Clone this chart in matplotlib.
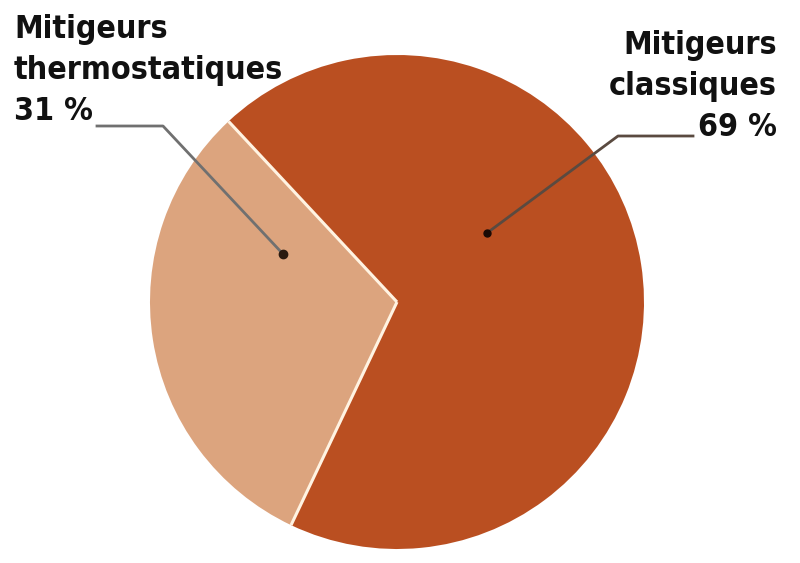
import numpy as np
import matplotlib
matplotlib.use('Agg')
import matplotlib.pyplot as plt

# Pie data
labels = ['Mitigeurs\nthermostatiques\n31 %', 'Mitigeurs\nclassiques\n69 %']
shares = [31, 69]
colors = ['#DCA47E', '#BA4F21']

plt.rcParams['font.family'] = ['DejaVu Sans']

W, H = 800, 563
fig = plt.figure(figsize=(8, 5.63), dpi=100)
ax = fig.add_axes([0, 0, 1, 1])

cx, cy, r = 397, H - 302, 247
start = 133
wedges, _ = ax.pie(shares, colors=colors, startangle=start, counterclock=True,
                   center=(cx, cy), radius=r, frame=True,
                   wedgeprops=dict(linewidth=0))

# light separator lines between the slices (no outline on the rim)
for w in wedges:
    a = np.deg2rad(w.theta1)
    ax.plot([cx, cx + r * np.cos(a)], [cy, cy + r * np.sin(a)],
            color='#FFF3E2', lw=2.2, solid_capstyle='butt')

ax.set_xlim(0, W)
ax.set_ylim(0, H)
ax.set_aspect('auto')
ax.axis('off')


def px(x, y):
    return x, H - y


# labels
txt = dict(fontsize=23, fontweight='bold', fontstretch='condensed',
           linespacing=1.42, color='#111111')
ax.text(*px(14, 14), labels[0], ha='left', va='top', **txt)
ax.text(*px(777, 30), labels[1], ha='right', va='top', **txt)

# leader lines with dots
ax.plot(*zip(px(97, 126), px(163, 126), px(283, 254)), color='#707070', lw=2)
ax.plot(*px(283, 254), 'o', color='#2a1a10', ms=6)
ax.plot(*zip(px(693, 136), px(618, 136), px(487, 233)), color='#5a4a40', lw=2)
ax.plot(*px(487, 233), 'o', color='#1a0a05', ms=5)

fig.savefig('out.png', dpi=100, facecolor='white')
